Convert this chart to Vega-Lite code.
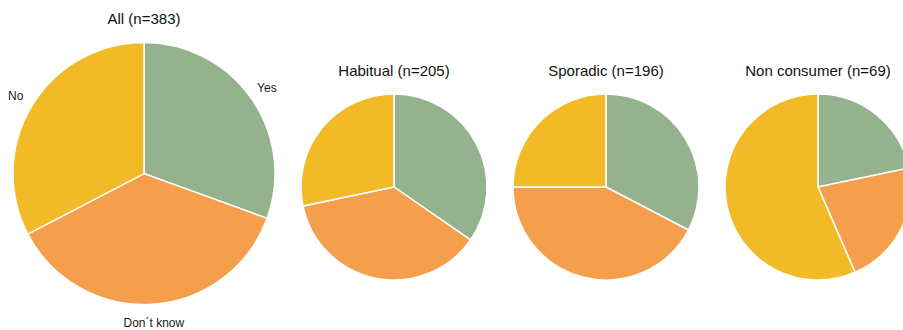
{
  "$schema": "https://vega.github.io/schema/vega-lite/v6.json",
  "padding": {"top": 12, "left": 0, "right": 0, "bottom": 0},
  "spacing": 0,
  "bounds": "flush",
  "resolve": {"scale": {"theta": "independent"}},
  "config": {
    "view": {"stroke": null},
    "font": "Liberation Sans",
    "title": {"fontSize": 15, "fontWeight": "normal", "color": "#111111", "anchor": "middle", "frame": "group", "baseline": "alphabetic", "font": "Liberation Sans"}
  },
  "datasets": {
    "survey": [
      {"group": "All", "answer": "Yes", "count": 117, "k": 1},
      {"group": "All", "answer": "Don´t know", "count": 141, "k": 2},
      {"group": "All", "answer": "No", "count": 125, "k": 3},
      {"group": "Habitual", "answer": "Yes", "count": 71, "k": 1},
      {"group": "Habitual", "answer": "Don´t know", "count": 76, "k": 2},
      {"group": "Habitual", "answer": "No", "count": 58, "k": 3},
      {"group": "Sporadic", "answer": "Yes", "count": 64, "k": 1},
      {"group": "Sporadic", "answer": "Don´t know", "count": 83, "k": 2},
      {"group": "Sporadic", "answer": "No", "count": 49, "k": 3},
      {"group": "Non consumer", "answer": "Yes", "count": 15, "k": 1},
      {"group": "Non consumer", "answer": "Don´t know", "count": 15, "k": 2},
      {"group": "Non consumer", "answer": "No", "count": 39, "k": 3}
    ]
  },
  "hconcat": [
    {
      "width": 288,
      "height": 159.2,
      "title": {"text": "All (n=383)", "offset": 12.4},
      "data": {"name": "survey"},
      "transform": [{"filter": "datum.group === 'All'"}],
      "encoding": {
        "theta": {"field": "count", "type": "quantitative", "stack": true},
        "order": {"field": "k", "type": "quantitative"}
      },
      "layer": [
        {
          "mark": {"type": "arc", "radius": 131, "stroke": "#ffffff", "strokeWidth": 1.5},
          "encoding": {
            "color": {"field": "answer", "type": "nominal", "legend": null,
              "scale": {"domain": ["Yes", "Don´t know", "No"], "range": ["#94B28E", "#F59F4C", "#F1BA26"]}}
          }
        },
        {
          "mark": {"type": "text", "radius": 150, "fontSize": 12, "color": "#1a1a1a"},
          "encoding": {"text": {"field": "answer", "type": "nominal"}}
        }
      ]
    },
    {
      "width": 212,
      "height": 186,
      "title": {"text": "Habitual (n=205)", "offset": 12.4},
      "data": {"name": "survey"},
      "transform": [{"filter": "datum.group === 'Habitual'"}],
      "mark": {"type": "arc", "radius": 93, "stroke": "#ffffff", "strokeWidth": 1.5},
      "encoding": {
        "theta": {"field": "count", "type": "quantitative", "stack": true},
        "order": {"field": "k", "type": "quantitative"},
        "color": {"field": "answer", "type": "nominal", "legend": null,
          "scale": {"domain": ["Yes", "Don´t know", "No"], "range": ["#94B28E", "#F59F4C", "#F1BA26"]}}
      }
    },
    {
      "width": 212,
      "height": 186,
      "title": {"text": "Sporadic (n=196)", "offset": 12.4},
      "data": {"name": "survey"},
      "transform": [{"filter": "datum.group === 'Sporadic'"}],
      "mark": {"type": "arc", "radius": 93, "stroke": "#ffffff", "strokeWidth": 1.5},
      "encoding": {
        "theta": {"field": "count", "type": "quantitative", "stack": true},
        "order": {"field": "k", "type": "quantitative"},
        "color": {"field": "answer", "type": "nominal", "legend": null,
          "scale": {"domain": ["Yes", "Don´t know", "No"], "range": ["#94B28E", "#F59F4C", "#F1BA26"]}}
      }
    },
    {
      "width": 212,
      "height": 186,
      "title": {"text": "Non consumer (n=69)", "offset": 12.4},
      "data": {"name": "survey"},
      "transform": [{"filter": "datum.group === 'Non consumer'"}],
      "mark": {"type": "arc", "radius": 93, "stroke": "#ffffff", "strokeWidth": 1.5},
      "encoding": {
        "theta": {"field": "count", "type": "quantitative", "stack": true},
        "order": {"field": "k", "type": "quantitative"},
        "color": {"field": "answer", "type": "nominal", "legend": null,
          "scale": {"domain": ["Yes", "Don´t know", "No"], "range": ["#94B28E", "#F59F4C", "#F1BA26"]}}
      }
    }
  ]
}
